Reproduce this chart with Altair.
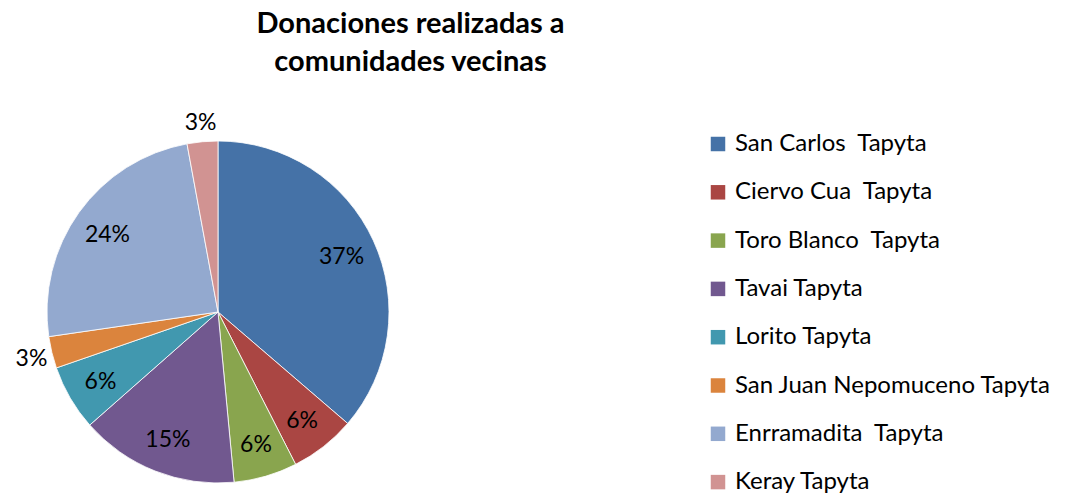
import altair as alt
import pandas as pd

categories = [
    "San Carlos\u00a0 Tapyta",
    "Ciervo Cua\u00a0 Tapyta",
    "Toro Blanco\u00a0 Tapyta",
    "Tavai Tapyta",
    "Lorito Tapyta",
    "San Juan Nepomuceno Tapyta",
    "Enrramadita\u00a0 Tapyta",
    "Keray Tapyta",
]
values = [36.3, 6.2, 6.0, 15.0, 6.2, 3.0, 24.4, 2.9]
labels = ["37%", "6%", "6%", "15%", "6%", "3%", "24%", "3%"]
colors = ["#4572A7", "#AA4643", "#89A54E", "#71588F", "#4198AF", "#DB843D", "#93A9CF", "#D19392"]

df = pd.DataFrame({"cat": categories, "val": values, "lab": labels, "ord": list(range(len(categories)))})

FONT = "Lato"
CX, CY, R = 218, 312, 171

pie = alt.Chart(df).mark_arc(stroke="white", strokeWidth=0.8).encode(
    theta=alt.Theta("val:Q", stack=True),
    order=alt.Order("ord:Q"),
    x=alt.value(CX), y=alt.value(CY), radius=alt.value(R),
    color=alt.Color(
        "cat:N",
        sort=categories,
        scale=alt.Scale(domain=categories, range=colors),
        legend=alt.Legend(
            title=None, orient="none", legendX=706, legendY=132,
            symbolType="square", symbolSize=210, symbolStrokeWidth=0,
            labelFont=FONT, labelFontSize=24, labelColor="black",
            rowPadding=24.3, labelOffset=5, labelLimit=400,
        ),
    ),
)

text = alt.Chart(df).transform_window(
    cum="sum(val)", sort=[alt.SortField("ord")], frame=[None, 0]
).transform_joinaggregate(
    total="sum(val)"
).transform_calculate(
    mid="(datum.cum - datum.val / 2) / datum.total",
    lr="datum.val < 4 ? 192 : 136",
).mark_text(font=FONT, fontSize=23, color="black", dy=2).encode(
    theta=alt.Theta("mid:Q", stack=None, scale=alt.Scale(domain=[0, 1], range=[0, 6.283185307179586])),
    x=alt.value(CX), y=alt.value(CY),
    radius=alt.Radius("lr:Q", scale=None),
    text="lab:N",
)

chart = alt.layer(pie, text).resolve_scale(theta="independent").properties(
    width=1081, height=497,
    autosize=alt.AutoSizeParams(type="none"),
    padding=0,
    title=alt.TitleParams(
        ["Donaciones realizadas a", "comunidades vecinas"],
        font=FONT, fontSize=29, fontWeight="bold", color="black",
        anchor="middle", dx=-130, offset=-77, lineHeight=38,
    ),
).configure_view(stroke=None)

chart.save("out.html", embed_options={"renderer": "svg", "actions": False})
